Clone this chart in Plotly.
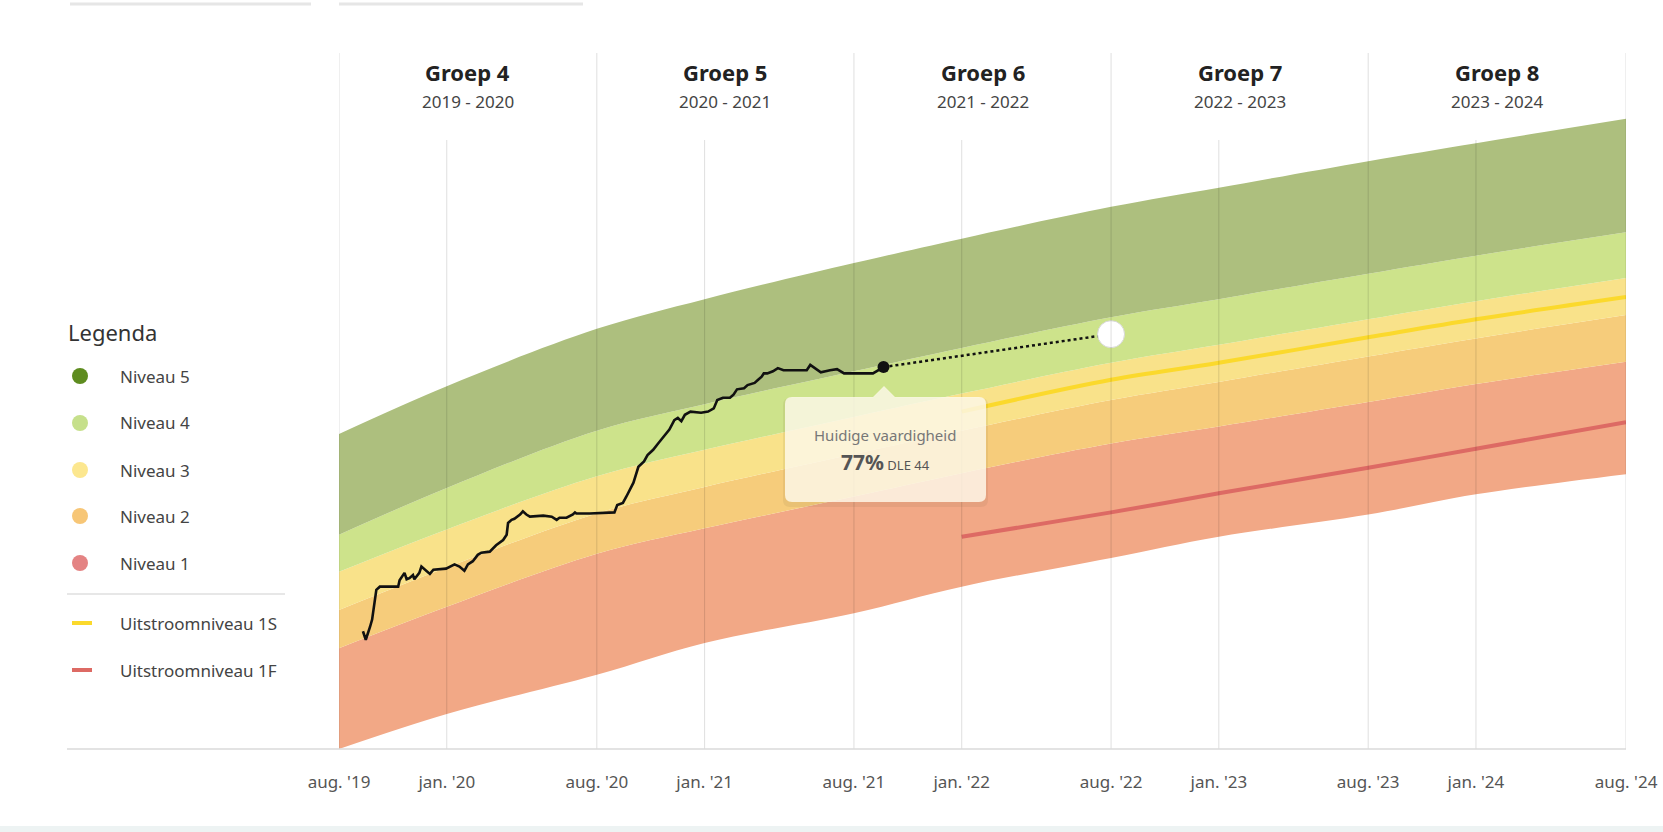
import plotly.graph_objects as go
import pandas as pd

# ---------------- data ----------------
band_dates = ["2019-08-01", "2020-01-01", "2020-08-01", "2021-01-01", "2021-08-01", "2022-01-01",
              "2022-08-01", "2023-01-01", "2023-08-01", "2024-01-01", "2024-08-01"]
band_bottom = [0, 33, 70, 100, 128, 153, 180, 200, 221, 240, 259]
niveau1_top = [95, 134, 184, 208, 238, 260, 288, 304, 327, 344, 365]
niveau2_top = [131, 171, 222, 247, 278, 300, 329, 346, 370, 387, 409]
niveau3_top = [167, 207, 257, 282, 313, 335, 364, 381, 405, 422, 444]
niveau4_top = [202, 246, 300, 325, 356, 378, 407, 424, 448, 465, 487]
niveau5_top = [297, 342, 396, 424, 458, 481, 511, 529, 554, 571, 594]

target_dates = ["2022-01-01", "2022-08-01", "2023-01-01", "2023-08-01", "2024-01-01", "2024-08-01"]
uitstroom_1s = [318, 348, 364, 388, 405, 426]
uitstroom_1f = [200, 223, 241, 265, 283, 308]

student_start = "2019-08-01"
student_days = [34, 38, 44, 47, 53, 58, 84, 86, 93, 96,
                100, 105, 107, 111, 114, 117, 122, 129, 134, 152,
                164, 171, 178, 183, 190, 197, 202, 214, 223, 233,
                238, 240, 245, 249, 257, 261, 266, 271, 290, 302,
                309, 313, 323, 332, 335, 337, 356, 391, 395, 403,
                408, 413, 418, 425, 433, 438, 446, 453, 461, 469,
                476, 481, 486, 491, 499, 514, 524, 532, 537, 545,
                555, 560, 565, 575, 580, 590, 595, 600, 603, 608,
                616, 623, 631, 646, 664, 669, 676, 684, 697, 707,
                717, 737, 758, 773]
student_score = [111, 103, 115, 122, 150, 153, 153, 159, 166, 160,
                 161, 164, 160, 163, 166, 172, 169, 165, 169, 170,
                 174, 172, 168, 174, 177, 183, 185, 186, 192, 197,
                 202, 213, 216, 217, 221, 224, 221, 219, 220, 219,
                 216, 218, 218, 221, 223, 222, 222, 223, 230, 232,
                 238, 244, 251, 266, 271, 277, 282, 288, 295, 301,
                 310, 312, 309, 315, 318, 317, 318, 321, 329, 331,
                 331, 334, 339, 340, 343, 345, 348, 351, 354, 354,
                 356, 359, 357, 357, 357, 362, 359, 355, 357, 358,
                 354, 354, 354, 360]

goal_date = "2022-08-01"
goal_score = 391

tick_dates = ["2019-08-01", "2020-01-01", "2020-08-01", "2021-01-01", "2021-08-01", "2022-01-01",
              "2022-08-01", "2023-01-01", "2023-08-01", "2024-01-01", "2024-08-01"]
tick_labels = ["aug. '19", "jan. '20", "aug. '20", "jan. '21", "aug. '21", "jan. '22",
               "aug. '22", "jan. '23", "aug. '23", "jan. '24", "aug. '24"]

groep_names = ["Groep 4", "Groep 5", "Groep 6", "Groep 7", "Groep 8"]
groep_years = ["2019 - 2020", "2020 - 2021", "2021 - 2022", "2022 - 2023", "2023 - 2024"]
groep_start = ["2019-08-01", "2020-08-01", "2021-08-01", "2022-08-01", "2023-08-01"]
groep_end = ["2020-08-01", "2021-08-01", "2022-08-01", "2023-08-01", "2024-08-01"]

legend_labels = ["Niveau 5", "Niveau 4", "Niveau 3", "Niveau 2", "Niveau 1"]
legend_line_labels = ["Uitstroomniveau 1S", "Uitstroomniveau 1F"]
tooltip_title = "Huidige vaardigheid"
tooltip_pct = "77%"
tooltip_dle = "DLE 44"

# ---------------- styling ----------------
FONT = "'Noto Sans', 'Open Sans', sans-serif"
band_colors = ["#f2a886", "#f6cc7b", "#f9e28a", "#cde38b", "#adbf7e"]
legend_dot_colors = ["#5e8c1f", "#c6e08b", "#fce78f", "#f7c676", "#e48383"]
col_1s = "#fbd92c"
col_1f = "#dd6a64"

W, H = 1663, 832
PL, PR, PT, PB = 339, 1626, 53, 749


def px(x):
    return (x - PL) / (PR - PL)


def py(y):
    return (PB - y) / (PB - PT)


fig = go.Figure()

# bands
bd = pd.to_datetime(band_dates)
fig.add_trace(go.Scatter(x=bd, y=band_bottom, mode="lines", line=dict(width=0, shape="spline"),
                         hoverinfo="skip"))
for top, col in zip([niveau1_top, niveau2_top, niveau3_top, niveau4_top, niveau5_top], band_colors):
    fig.add_trace(go.Scatter(x=bd, y=top, mode="lines", line=dict(width=0, shape="spline"),
                             fill="tonexty", fillcolor=col, hoverinfo="skip"))

# target lines
td = pd.to_datetime(target_dates)
fig.add_trace(go.Scatter(x=td, y=uitstroom_1s, mode="lines",
                         line=dict(color=col_1s, width=4, shape="spline"), hoverinfo="skip"))
fig.add_trace(go.Scatter(x=td, y=uitstroom_1f, mode="lines",
                         line=dict(color=col_1f, width=4, shape="spline"), hoverinfo="skip"))

# student line
sd = pd.Timestamp(student_start) + pd.to_timedelta(student_days, unit="D")
fig.add_trace(go.Scatter(x=sd, y=student_score, mode="lines",
                         line=dict(color="#111111", width=2.6), hoverinfo="skip"))
# projection dotted line
fig.add_trace(go.Scatter(x=[sd[-1], pd.Timestamp(goal_date)], y=[student_score[-1], goal_score],
                         mode="lines", line=dict(color="#111111", width=2.5, dash="dot"),
                         hoverinfo="skip"))
# current dot
fig.add_trace(go.Scatter(x=[sd[-1]], y=[student_score[-1]], mode="markers",
                         marker=dict(color="#111111", size=12), hoverinfo="skip"))
# goal circle
fig.add_trace(go.Scatter(x=[pd.Timestamp(goal_date)], y=[goal_score], mode="markers",
                         marker=dict(color="white", size=27, line=dict(color="#d8d8d8", width=1)),
                         hoverinfo="skip"))

shapes = []
annotations = []


def note(x, y, text, size, color, xanchor="center", xref="paper"):
    annotations.append(dict(x=x, y=y, xref=xref, yref="paper", text=text, showarrow=False,
                            xanchor=xanchor, yanchor="middle",
                            font=dict(family=FONT, size=size, color=color)))


# gridlines
for d, lab in zip(tick_dates, tick_labels):
    is_aug = lab.startswith("aug")
    shapes.append(dict(type="line", xref="x", yref="paper", x0=d, x1=d, y0=0,
                       y1=1 if is_aug else py(140), line=dict(color="rgba(0,0,0,0.13)", width=1),
                       layer="above"))

# baseline
shapes.append(dict(type="line", xref="paper", yref="paper", x0=px(67), x1=1, y0=0, y1=0,
                   line=dict(color="#dadada", width=1.5), layer="above"))

# groep headers
for name, yrs, a, b in zip(groep_names, groep_years, groep_start, groep_end):
    mid = pd.Timestamp(a) + (pd.Timestamp(b) - pd.Timestamp(a)) / 2
    note(mid, py(72), "<b>%s</b>" % name, 22, "#222222", xref="x")
    note(mid, py(102), yrs, 17, "#444444", xref="x")

# legend
note(px(66), py(332), "Legenda", 22, "#333333", xanchor="left")
leg_y = [376, 423, 470, 516, 563]
for lab, col, yy in zip(legend_labels, legend_dot_colors, leg_y):
    shapes.append(dict(type="circle", xref="paper", yref="paper", x0=px(72), x1=px(88),
                       y0=py(yy + 8), y1=py(yy - 8), fillcolor=col, line=dict(width=0)))
    note(px(118), py(yy), lab, 17, "#444444", xanchor="left")
shapes.append(dict(type="line", xref="paper", yref="paper", x0=px(67), x1=px(285),
                   y0=py(594), y1=py(594), line=dict(color="#d0d0d0", width=1.2)))
for lab, col, yy in zip(legend_line_labels, [col_1s, col_1f], [623, 670]):
    shapes.append(dict(type="line", xref="paper", yref="paper", x0=px(72), x1=px(92),
                       y0=py(yy), y1=py(yy), line=dict(color=col, width=4)))
    note(px(118), py(yy), lab, 17, "#444444", xanchor="left")

# tooltip
bx0, bx1, by0, by1, r = 785, 986, 397, 502, 7
ax, ay = 884, 386


def tooltip_path(dx=0, dy=0, grow=0):
    x0, x1, y0, y1 = bx0 - grow + dx, bx1 + grow + dx, by0 - grow + dy, by1 + grow + dy
    pts = [
        f"M{px(x0 + r)},{py(y0)}",
        f"L{px(ax - 11 + dx)},{py(y0)}",
        f"L{px(ax + dx)},{py(ay - grow + dy)}",
        f"L{px(ax + 11 + dx)},{py(y0)}",
        f"L{px(x1 - r)},{py(y0)}",
        f"Q{px(x1)},{py(y0)} {px(x1)},{py(y0 + r)}",
        f"L{px(x1)},{py(y1 - r)}",
        f"Q{px(x1)},{py(y1)} {px(x1 - r)},{py(y1)}",
        f"L{px(x0 + r)},{py(y1)}",
        f"Q{px(x0)},{py(y1)} {px(x0)},{py(y1 - r)}",
        f"L{px(x0)},{py(y0 + r)}",
        f"Q{px(x0)},{py(y0)} {px(x0 + r)},{py(y0)}",
        "Z",
    ]
    return " ".join(pts)


shapes.append(dict(type="path", xref="paper", yref="paper", path=tooltip_path(0, 3, 2),
                   fillcolor="rgba(120,100,60,0.10)", line=dict(width=0), layer="above"))
shapes.append(dict(type="path", xref="paper", yref="paper", path=tooltip_path(),
                   fillcolor="rgba(255,250,236,0.82)", line=dict(width=0), layer="above"))
note(px(885), py(435), tooltip_title, 15, "#777777")
note(px(885), py(462), "<b><span style='font-size:21px'>%s</span></b> %s" % (tooltip_pct, tooltip_dle),
     13, "#555555")

# page frame decorations
shapes.append(dict(type="rect", xref="paper", yref="paper", x0=px(-20), x1=px(1700),
                   y0=py(860), y1=py(826), fillcolor="#edf3f3", line=dict(width=0)))
shapes.append(dict(type="line", xref="paper", yref="paper", x0=px(70), x1=px(311),
                   y0=py(4), y1=py(4), line=dict(color="#e6e6e6", width=3)))
shapes.append(dict(type="line", xref="paper", yref="paper", x0=px(339), x1=px(583),
                   y0=py(4), y1=py(4), line=dict(color="#e6e6e6", width=3)))

fig.update_layout(
    width=W, height=H,
    margin=dict(l=PL, r=W - PR, t=PT, b=H - PB, autoexpand=False),
    paper_bgcolor="white", plot_bgcolor="white",
    showlegend=False, hovermode=False,
    shapes=shapes, annotations=annotations,
    font=dict(family=FONT),
    xaxis=dict(type="date", range=[tick_dates[0], tick_dates[-1]], showgrid=False, zeroline=False,
               showline=False, tickvals=tick_dates, ticktext=tick_labels, ticks="outside",
               ticklen=18, tickcolor="rgba(0,0,0,0)", tickfont=dict(family=FONT, size=17, color="#555555"),
               fixedrange=True, automargin=False),
    yaxis=dict(range=[0, 656], visible=False, fixedrange=True, automargin=False),
)

fig.write_html("out.html", config={"displayModeBar": False},
               post_script="document.body.style.margin='0';")
